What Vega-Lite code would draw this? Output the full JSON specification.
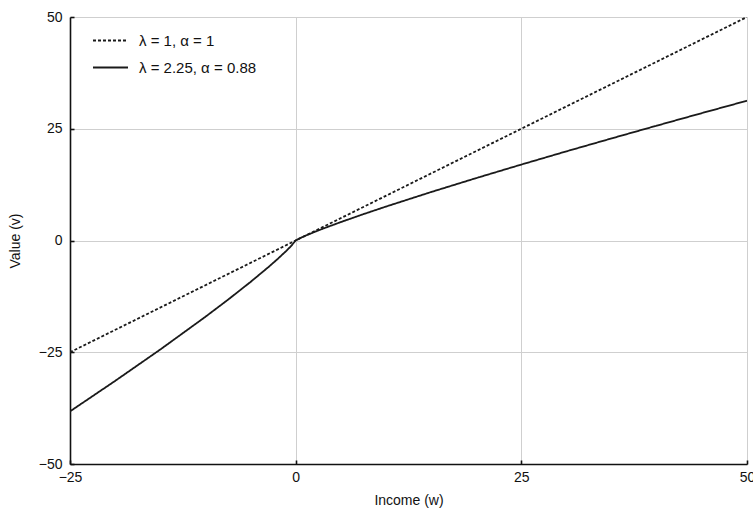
{
  "$schema": "https://vega.github.io/schema/vega-lite/v6.json",
  "autosize": {"type": "none"},
  "padding": {"left": 70, "top": 17, "right": 6, "bottom": 56},
  "width": 677,
  "height": 447,
  "background": "white",
  "config": {
    "font": "Liberation Sans",
    "view": {"stroke": "#c8c8c8", "strokeWidth": 1},
    "axis": {
      "domainColor": "#111111",
      "domainWidth": 1.6,
      "tickColor": "#111111",
      "tickWidth": 1.6,
      "tickSize": -4,
      "gridColor": "#cfcfcf",
      "gridWidth": 1,
      "labelFont": "Liberation Sans",
      "labelFontSize": 14,
      "labelColor": "#111111",
      "titleFont": "Liberation Sans",
      "titleFontSize": 14,
      "titleFontWeight": "normal",
      "titleColor": "#111111"
    }
  },
  "data": {
    "values": [
      {"w": -25, "v": -25, "s": "λ = 1, α = 1"},
      {"w": 50, "v": 50, "s": "λ = 1, α = 1"},
      {"w": -25, "v": -38.23, "s": "λ = 2.25, α = 0.88"},
      {"w": -20, "v": -31.41, "s": "λ = 2.25, α = 0.88"},
      {"w": -15, "v": -24.39, "s": "λ = 2.25, α = 0.88"},
      {"w": -10, "v": -17.07, "s": "λ = 2.25, α = 0.88"},
      {"w": -7.5, "v": -13.25, "s": "λ = 2.25, α = 0.88"},
      {"w": -5, "v": -9.275, "s": "λ = 2.25, α = 0.88"},
      {"w": -3, "v": -5.916, "s": "λ = 2.25, α = 0.88"},
      {"w": -2, "v": -4.141, "s": "λ = 2.25, α = 0.88"},
      {"w": -1, "v": -2.25, "s": "λ = 2.25, α = 0.88"},
      {"w": -0.5, "v": -1.223, "s": "λ = 2.25, α = 0.88"},
      {"w": 0, "v": 0, "s": "λ = 2.25, α = 0.88"},
      {"w": 0.5, "v": 0.5434, "s": "λ = 2.25, α = 0.88"},
      {"w": 1, "v": 1, "s": "λ = 2.25, α = 0.88"},
      {"w": 2, "v": 1.8404, "s": "λ = 2.25, α = 0.88"},
      {"w": 3, "v": 2.6295, "s": "λ = 2.25, α = 0.88"},
      {"w": 5, "v": 4.122, "s": "λ = 2.25, α = 0.88"},
      {"w": 7.5, "v": 5.889, "s": "λ = 2.25, α = 0.88"},
      {"w": 10, "v": 7.586, "s": "λ = 2.25, α = 0.88"},
      {"w": 15, "v": 10.839, "s": "λ = 2.25, α = 0.88"},
      {"w": 20, "v": 13.96, "s": "λ = 2.25, α = 0.88"},
      {"w": 25, "v": 16.99, "s": "λ = 2.25, α = 0.88"},
      {"w": 30, "v": 19.95, "s": "λ = 2.25, α = 0.88"},
      {"w": 35, "v": 22.84, "s": "λ = 2.25, α = 0.88"},
      {"w": 40, "v": 25.69, "s": "λ = 2.25, α = 0.88"},
      {"w": 45, "v": 28.5, "s": "λ = 2.25, α = 0.88"},
      {"w": 50, "v": 31.27, "s": "λ = 2.25, α = 0.88"}
    ]
  },
  "mark": {"type": "line", "color": "#1a1a1a", "strokeWidth": 1.8, "clip": true},
  "encoding": {
    "x": {
      "field": "w",
      "type": "quantitative",
      "scale": {"domain": [-25, 50], "nice": false, "zero": false},
      "axis": {"values": [-25, 0, 25, 50], "title": "Income (w)", "labelPadding": 10, "titlePadding": 9, "labelFlush": false}
    },
    "y": {
      "field": "v",
      "type": "quantitative",
      "scale": {"domain": [-50, 50], "nice": false},
      "axis": {"values": [-50, -25, 0, 25, 50], "title": "Value (v)", "labelPadding": 12, "titlePadding": 16, "labelFlush": false}
    },
    "strokeDash": {
      "field": "s",
      "type": "nominal",
      "scale": {"domain": ["λ = 1, α = 1", "λ = 2.25, α = 0.88"], "range": [[3, 2], [1, 0]]},
      "legend": {
        "title": null,
        "orient": "none",
        "legendX": 22,
        "legendY": 5,
        "symbolType": "stroke",
        "symbolSize": 1225,
        "symbolStrokeWidth": 1.8,
        "symbolStrokeColor": "#1a1a1a",
        "labelFont": "Liberation Sans",
        "labelFontSize": 15,
        "labelColor": "#111111",
        "labelOffset": 10,
        "rowPadding": -5,
        "labelLimit": 300
      }
    },
    "order": {"field": "w", "type": "quantitative"}
  }
}
